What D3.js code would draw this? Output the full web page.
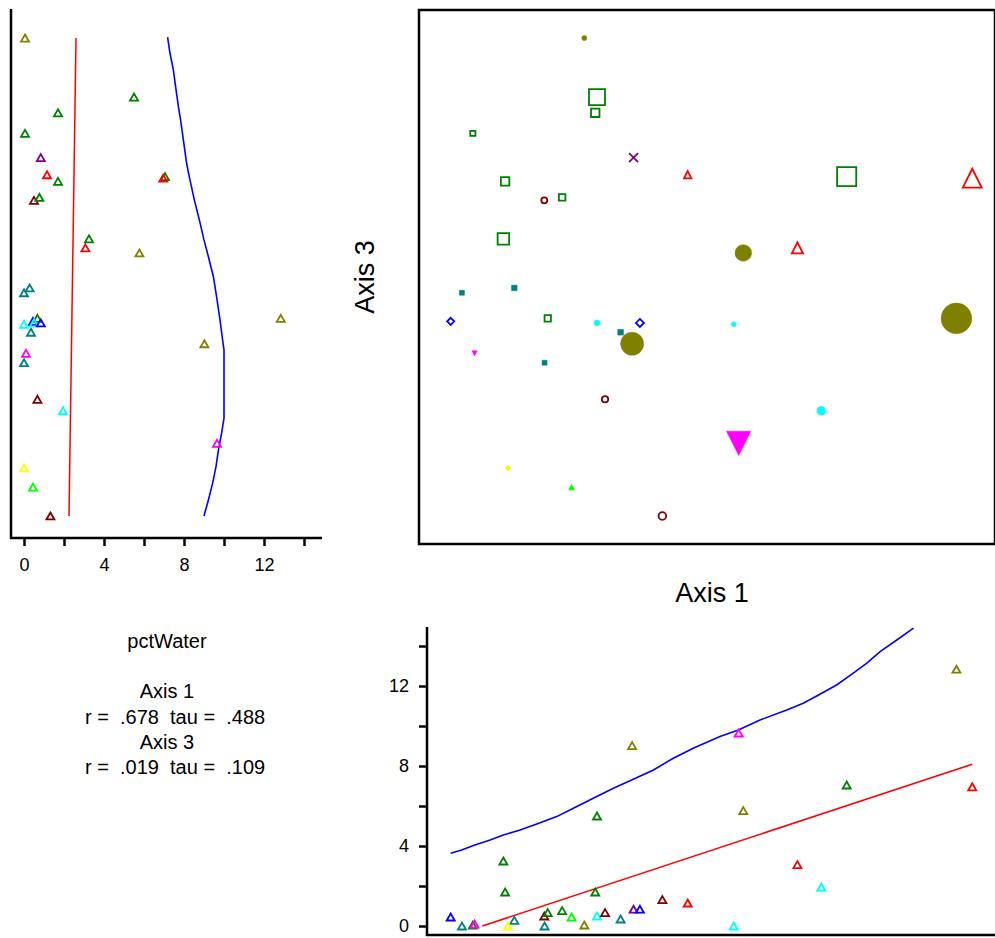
<!DOCTYPE html>
<meta charset="utf-8">
<script src="https://d3js.org/d3.v7.min.js"></script>
<style>
body { margin: 0; background: #fff; }
svg text { font-family: "Liberation Sans", Arial, sans-serif; fill: #000; }
</style>
<body>
<script>

// ordination scores, the overlay variable and group of each sample unit
var axis1Scores = [-0.426, -0.382, -0.388, -0.813, -0.255, -0.067, -0.701, -0.565, -0.503, -0.707, 0.485, 0.921, 0.126, 0.314, -0.851, -0.669,
                   -0.890, -0.553, -0.382, -0.233, -0.300, -0.260, -0.807, -0.564, -0.354, -0.691, -0.470, -0.155, 0.093, 0.866, 0.397, 0.110];
var axis3Scores = [0.895, 0.674, 0.615, 0.538, 0.447, 0.383, 0.358, 0.287, 0.298, 0.143, 0.376, 0.370, 0.090, 0.109, -0.059, -0.041,
                   -0.166, -0.155, -0.172, -0.172, -0.207, -0.250, -0.286, -0.321, -0.458, -0.715, -0.787, -0.895, -0.177, -0.155, -0.501, -0.623];
var pctWater = [0.05, 5.5, 1.7, 0.05, 0.84, 1.15, 1.7, 0.5, 0.77, 3.25, 7.05, 6.96, 5.77, 3.07, 0, 0.28,
                0.45, 0.67, 0.5, 0.84, 0.35, 9.02, 0.1, 0, 0.67, 0, 0.45, 1.32, 0, 12.84, 1.95, 9.65];
var groupOf = [0, 1, 1, 1, 2, 3, 1, 4, 1, 1, 1, 3, 0, 3, 5, 5,
               6, 1, 7, 6, 5, 0, 8, 5, 4, 9, 10, 4, 7, 0, 7, 8];

// group symbols
var groupColors = ["#808000", "#008000", "#800080", "#ff0000", "#800000", "#008080", "#0000ff", "#00ffff", "#ff00ff", "#ffff00", "#00ff00"];
var groupShapes = ["circle", "square", "cross", "triangle", "circle", "square", "diamond", "circle", "triangleDown", "diamond", "triangle"];
var groupFilled = [true, false, false, false, false, true, false, true, true, true, true];

// smoothed fits (blue) and linear fits [intercept, slope] (red)
var smoothAxis1 = [-0.890, -0.852, -0.811, -0.753, -0.707, -0.649, -0.591, -0.522, -0.464, -0.395, -0.325, -0.256, -0.186, -0.117,
                   -0.048, 0.045, 0.109, 0.184, 0.277, 0.334, 0.381, 0.450, 0.508, 0.555, 0.601, 0.659, 0.717];
var smoothWater1 = [3.64, 3.80, 4.02, 4.30, 4.55, 4.80, 5.10, 5.47, 5.89, 6.39, 6.89, 7.34, 7.80, 8.39,
                    8.89, 9.47, 9.80, 10.30, 10.80, 11.14, 11.50, 12.05, 12.64, 13.14, 13.72, 14.30, 14.89];
var smoothAxis3 = [0.898, 0.838, 0.775, 0.713, 0.638, 0.588, 0.513, 0.426, 0.363, 0.288, 0.213, 0.139, 0.076, 0.001,
                   -0.074, -0.161, -0.236, -0.273, -0.529, -0.585, -0.648, -0.710, -0.773, -0.835, -0.895];
var smoothWater3 = [7.18, 7.30, 7.47, 7.58, 7.72, 7.83, 7.97, 8.13, 8.30, 8.52, 8.77, 9.00, 9.22, 9.47,
                    9.63, 9.80, 9.93, 10.0, 10.0, 9.88, 9.72, 9.60, 9.43, 9.22, 9.00];
var fitAxis1 = [3.71, 4.755];
var fitAxis3 = [2.425, 0.196];

var waterTicks = [0, 2, 4, 6, 8, 10, 12, 14];
var statLines = [
  {text: "pctWater", anchor: "middle"},
  {text: "", anchor: "middle"},
  {text: "Axis 1", anchor: "middle"},
  {text: "r =  .678  tau =  .488", anchor: "start"},
  {text: "Axis 3", anchor: "middle"},
  {text: "r =  .019  tau =  .109", anchor: "start"}
];

var width = 995, height = 938;

var svg = d3.select("body").append("svg")
  .attr("width", width)
  .attr("height", height);

// scales
var x1 = d3.scaleLinear().domain([-1, 1]).range([419, 995]);
var y3 = d3.scaleLinear().domain([-1, 1]).range([544, 10]);
var xW = d3.scaleLinear().domain([0, 14]).range([24, 304]);
var yW = d3.scaleLinear().domain([0, 14]).range([926, 646]);
// symbol size grows with pctWater
var symSize = d3.scaleLinear().domain([0, 1]).range([5, 7]);

var points = pctWater.map(function(w, i) {
  return {a1: axis1Scores[i], a3: axis3Scores[i], w: w, g: groupOf[i]};
});

function shapePath(shape, d) {
  var h = d / 2;
  if (shape === "circle") return d3.arc()({innerRadius: 0, outerRadius: h, startAngle: 0, endAngle: 2 * Math.PI});
  if (shape === "square") return "M" + (-h) + "," + (-h) + "h" + d + "v" + d + "h" + (-d) + "Z";
  if (shape === "triangle") return "M0," + (-h) + "L" + h + "," + h + "L" + (-h) + "," + h + "Z";
  if (shape === "triangleDown") return "M0," + h + "L" + h + "," + (-h) + "L" + (-h) + "," + (-h) + "Z";
  if (shape === "diamond") { h *= 1.2; return "M0," + (-h) + "L" + h + ",0L0," + h + "L" + (-h) + ",0Z"; }
  if (shape === "cross") { h *= 1.35; return "M" + (-h) + "," + (-h) + "L" + h + "," + h + "M" + (-h) + "," + h + "L" + h + "," + (-h); }
}

var smallTri = "M0,-3.5L4,3.5L-4,3.5Z";

// ---- main ordination: Axis 1 vs Axis 3 ----
svg.append("rect")
  .attr("x", 419).attr("y", 10)
  .attr("width", 576).attr("height", 534)
  .attr("fill", "none").attr("stroke", "#000").attr("stroke-width", 2.5);

svg.append("g").selectAll("path")
  .data(points.slice().sort(function(a, b) { return b.w - a.w; }))
  .enter().append("path")
  .attr("transform", function(d) { return "translate(" + x1(d.a1) + "," + y3(d.a3) + ")"; })
  .attr("d", function(d) { return shapePath(groupShapes[d.g], symSize(d.w)); })
  .attr("fill", function(d) { return groupFilled[d.g] ? groupColors[d.g] : "none"; })
  .attr("stroke", function(d) { return groupColors[d.g]; })
  .attr("stroke-width", function(d) { return groupFilled[d.g] ? 0.5 : 1.8; });

svg.append("text")
  .attr("transform", "translate(374,277) rotate(-90)")
  .attr("text-anchor", "middle")
  .style("font-size", "27px")
  .text("Axis 3");

svg.append("text")
  .attr("x", 712).attr("y", 602)
  .attr("text-anchor", "middle")
  .style("font-size", "27px")
  .text("Axis 1");

// ---- left panel: pctWater vs Axis 3 ----
var left = svg.append("g");

left.append("line")
  .attr("x1", 11).attr("x2", 11).attr("y1", 9).attr("y2", 539)
  .attr("stroke", "#000").attr("stroke-width", 2.5);
left.append("line")
  .attr("x1", 10).attr("x2", 322).attr("y1", 538).attr("y2", 538)
  .attr("stroke", "#000").attr("stroke-width", 2.5);

var leftAxis = left.append("g")
  .attr("transform", "translate(0,538)")
  .call(d3.axisBottom(xW).tickValues(waterTicks).tickSize(8).tickPadding(12)
    .tickFormat(function(d) { return d % 4 === 0 ? d : ""; }));
leftAxis.select(".domain").remove();
leftAxis.selectAll("line").attr("stroke-width", 2.5);
leftAxis.selectAll("text").style("font-size", "18px").attr("font-family", null);

var a3Range = d3.extent(axis3Scores);
left.append("line")
  .attr("x1", xW(fitAxis3[0] + fitAxis3[1] * a3Range[1])).attr("y1", y3(a3Range[1]))
  .attr("x2", xW(fitAxis3[0] + fitAxis3[1] * a3Range[0])).attr("y2", y3(a3Range[0]))
  .attr("stroke", "#ff0000").attr("stroke-width", 1.5);

left.append("path")
  .datum(smoothAxis3.map(function(a, i) { return [smoothWater3[i], a]; }))
  .attr("fill", "none").attr("stroke", "#0000ff").attr("stroke-width", 1.6)
  .attr("d", d3.line().x(function(d) { return xW(d[0]); }).y(function(d) { return y3(d[1]); }));

left.append("g").selectAll("path")
  .data(points)
  .enter().append("path")
  .attr("transform", function(d) { return "translate(" + xW(d.w) + "," + y3(d.a3) + ")"; })
  .attr("d", smallTri)
  .attr("fill", "none")
  .attr("stroke", function(d) { return groupColors[d.g]; })
  .attr("stroke-width", 1.8);

// ---- bottom panel: pctWater vs Axis 1 ----
var bottom = svg.append("g");

bottom.append("line")
  .attr("x1", 427).attr("x2", 427).attr("y1", 627).attr("y2", 936)
  .attr("stroke", "#000").attr("stroke-width", 2.5);
bottom.append("line")
  .attr("x1", 426).attr("x2", 995).attr("y1", 935).attr("y2", 935)
  .attr("stroke", "#000").attr("stroke-width", 2.5);

var bottomAxis = bottom.append("g")
  .attr("transform", "translate(427,0)")
  .call(d3.axisLeft(yW).tickValues(waterTicks).tickSize(8).tickPadding(10)
    .tickFormat(function(d) { return d % 4 === 0 ? d : ""; }));
bottomAxis.select(".domain").remove();
bottomAxis.selectAll("line").attr("stroke-width", 2.5);
bottomAxis.selectAll("text").style("font-size", "18px").attr("font-family", null);

var a1Max = d3.max(axis1Scores);
var a1Start = Math.max(d3.min(axis1Scores), -fitAxis1[0] / fitAxis1[1]);
bottom.append("line")
  .attr("x1", x1(a1Start)).attr("y1", yW(fitAxis1[0] + fitAxis1[1] * a1Start))
  .attr("x2", x1(a1Max)).attr("y2", yW(fitAxis1[0] + fitAxis1[1] * a1Max))
  .attr("stroke", "#ff0000").attr("stroke-width", 1.5);

bottom.append("path")
  .datum(smoothAxis1.map(function(a, i) { return [a, smoothWater1[i]]; }))
  .attr("fill", "none").attr("stroke", "#0000ff").attr("stroke-width", 1.6)
  .attr("d", d3.line().x(function(d) { return x1(d[0]); }).y(function(d) { return yW(d[1]); }));

bottom.append("g").selectAll("path")
  .data(points)
  .enter().append("path")
  .attr("transform", function(d) { return "translate(" + x1(d.a1) + "," + yW(d.w) + ")"; })
  .attr("d", smallTri)
  .attr("fill", "none")
  .attr("stroke", function(d) { return groupColors[d.g]; })
  .attr("stroke-width", 1.8);

// ---- correlation summary ----
svg.append("g").selectAll("text")
  .data(statLines)
  .enter().append("text")
  .attr("x", function(d) { return d.anchor === "start" ? 85 : 167; })
  .attr("y", function(d, i) { return 648 + i * 25.2; })
  .attr("text-anchor", function(d) { return d.anchor; })
  .attr("xml:space", "preserve")
  .style("white-space", "pre")
  .style("font-size", "20px")
  .text(function(d) { return d.text; });

</script>
</body>
